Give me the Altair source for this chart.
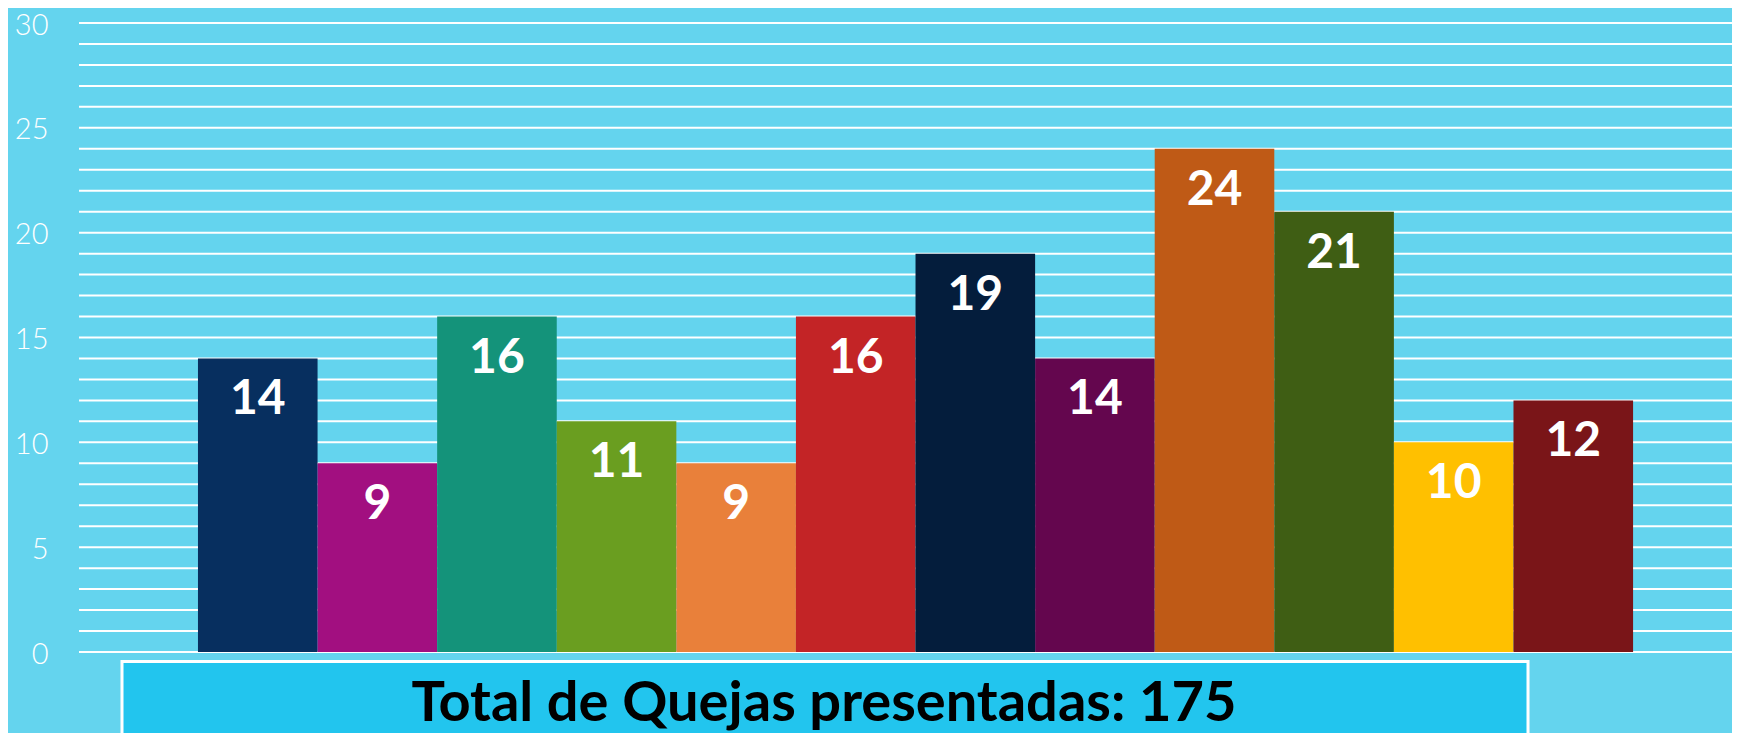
import altair as alt
import pandas as pd

categories = ["C01", "C02", "C03", "C04", "C05", "C06", "C07", "C08", "C09", "C10", "C11", "C12"]
values = [14, 9, 16, 11, 9, 16, 19, 14, 24, 21, 10, 12]
colors = ["#072F5F", "#A20F80", "#14937A", "#6A9E20", "#E9803A", "#C32426",
          "#041D3C", "#64064E", "#BF5A16", "#3F5E14", "#FFC000", "#7A1518"]
total_label = ["Total de Quejas presentadas: 175"]
grid_values = list(range(0, 31))
label_values = [0, 5, 10, 15, 20, 25, 30]

BG = "#64D4EE"
BOX = "#22C5EE"

W, H = 1653, 629

df = pd.DataFrame({"cat": categories, "val": values})
grid_df = pd.DataFrame({"g": grid_values})

xscale = alt.Scale(domain=categories, paddingInner=0, paddingOuter=0.911, align=0.546)
yscale = alt.Scale(domain=[0, 30], nice=False)

grid = alt.Chart(grid_df).mark_rule(color="white", strokeWidth=2).encode(
    y=alt.Y("g:Q", scale=yscale,
            axis=alt.Axis(values=label_values, title=None, grid=False, domain=False,
                          ticks=False, labelOverlap=False, labelOffset=2,
                          labelFont="Lato", labelFontWeight=300, labelFontSize=29,
                          labelColor="white", labelPadding=31)),
    x=alt.value(0), x2=alt.value(W),
)

bars = alt.Chart(df).mark_bar(stroke=None).encode(
    x=alt.X("cat:N", scale=xscale, axis=None, sort=categories),
    y=alt.Y("val:Q", scale=yscale),
    color=alt.Color("cat:N", scale=alt.Scale(domain=categories, range=colors), legend=None),
)

labels = alt.Chart(df).mark_text(
    font="Lato", fontWeight="bold", fontSize=48, color="white",
    baseline="middle", align="center", dy=42,
).encode(
    x=alt.X("cat:N", scale=xscale, sort=categories),
    y=alt.Y("val:Q", scale=yscale),
    text=alt.Text("val:Q"),
)

box_df = pd.DataFrame({"t": total_label})
box = alt.Chart(box_df).mark_rect(fill=BOX, stroke="white", strokeWidth=3).encode(
    x=alt.value(43), x2=alt.value(1449), y=alt.value(638.5), y2=alt.value(720),
)
box_text = alt.Chart(box_df).mark_text(
    font="Lato", fontWeight="bold", fontSize=56, color="black",
    align="center", baseline="alphabetic",
).encode(
    x=alt.value(745), y=alt.value(698), text="t:N",
)

chart = alt.layer(grid, bars, labels, box, box_text).properties(
    width=W, height=H,
    background=BG,
    padding={"left": 71, "top": 15, "right": 0, "bottom": 81},
    autosize=alt.AutoSizeParams(type="none"),
).configure_view(stroke=None, fill=BG)

chart.save("out.html", embed_options={"renderer": "svg", "actions": False})
